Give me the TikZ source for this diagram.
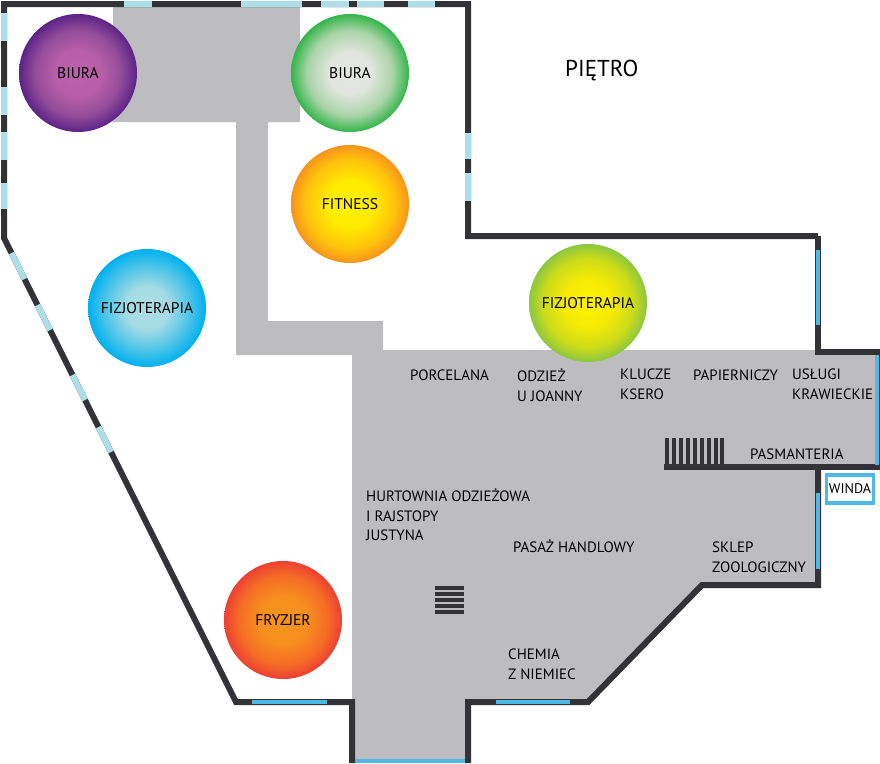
\documentclass[tikz,border=0pt]{standalone}
\usepackage{fontspec}
\setmainfont{PT Sans}
\usetikzlibrary{positioning}
\definecolor{floorgray}{RGB}{189,189,192}
\definecolor{walldark}{RGB}{51,51,55}
\definecolor{glasslight}{RGB}{172,224,232}
\definecolor{glassblue}{RGB}{78,184,230}
\pgfdeclareradialshading{spotpurple}{\pgfpointorigin}{rgb(0bp)=(0.74,0.38,0.67); rgb(10bp)=(0.72,0.37,0.66); rgb(18bp)=(0.58,0.30,0.60); rgb(25bp)=(0.36,0.14,0.53); rgb(50bp)=(0.36,0.14,0.53)}
\pgfdeclareradialshading{spotgreen}{\pgfpointorigin}{rgb(0bp)=(0.90,0.90,0.89); rgb(9bp)=(0.88,0.90,0.87); rgb(18bp)=(0.67,0.83,0.66); rgb(25bp)=(0.20,0.71,0.29); rgb(50bp)=(0.20,0.71,0.29)}
\pgfdeclareradialshading{spotorange}{\pgfpointorigin}{rgb(0bp)=(1,0.95,0); rgb(10bp)=(1,0.92,0); rgb(19bp)=(1,0.76,0.05); rgb(25bp)=(0.97,0.58,0.11); rgb(50bp)=(0.97,0.58,0.11)}
\pgfdeclareradialshading{spotblue}{\pgfpointorigin}{rgb(0bp)=(0.67,0.87,0.90); rgb(9bp)=(0.65,0.86,0.90); rgb(18bp)=(0.30,0.77,0.91); rgb(25bp)=(0,0.69,0.94); rgb(50bp)=(0,0.69,0.94)}
\pgfdeclareradialshading{spotlime}{\pgfpointorigin}{rgb(0bp)=(1,0.95,0); rgb(10bp)=(0.97,0.92,0.02); rgb(19bp)=(0.80,0.86,0.10); rgb(25bp)=(0.55,0.78,0.25); rgb(50bp)=(0.55,0.78,0.25)}
\pgfdeclareradialshading{spotred}{\pgfpointorigin}{rgb(0bp)=(0.97,0.58,0.11); rgb(10bp)=(0.97,0.56,0.12); rgb(19bp)=(0.96,0.42,0.15); rgb(25bp)=(0.93,0.25,0.20); rgb(50bp)=(0.93,0.25,0.20)}
\tikzset{
	wall/.style = {draw = walldark, line width = 6pt, miter limit = 10},
	glass/.style = {draw = glasslight, line width = 6pt},
	pane/.style = {draw = glassblue, line width = 4pt},
	spot/.style = {circle, shade, minimum size = 118pt, inner sep = 0pt, font = \fontsize{15.5}{20}\selectfont},
	lbl/.style = {anchor = west, inner sep = 0pt, align = left, font = \fontsize{15}{19.6}\selectfont}
}
\begin{document}
\begin{tikzpicture}[x=1pt, y=-1pt]
		\useasboundingbox (0, 0) rectangle (880, 763);

		\fill [floorgray] (113, 4) -- (300, 4) -- (300, 122) -- (268, 122) -- (268, 321) -- (383, 321) -- (383, 350) -- (878, 350) -- (878, 467) -- (818, 467) -- (818, 585) -- (702, 585) -- (588, 702) -- (468, 702) -- (468, 763) -- (352, 763) -- (352, 355) -- (236, 355) -- (236, 122) -- (113, 122) -- cycle;

		\foreach \x in {667, 674, 681, 688, 695, 702, 709, 716, 722}
			\draw [walldark, line width = 3.5pt] (\x, 438) -- (\x, 467);
		\foreach \y in {588, 594, 600, 606, 612}
			\draw [walldark, line width = 3.5pt] (435, \y) -- (464, \y);

		\draw [wall] (818, 236) -- (818, 352) -- (878, 352) -- (878, 467) -- (664, 467);
		\draw [wall] (818, 467) -- (818, 585) -- (702, 585) -- (588, 702) -- (468, 702) -- (468, 763);
		\draw [wall] (352, 763) -- (352, 702) -- (236, 702) -- (4, 238) -- (4, 4) -- (468, 4) -- (468, 236) -- (818, 236);

		\foreach \a/\b in {124/152, 241/302, 321/349, 357/384, 408/435}
			\draw [glass] (\a, 4) -- (\b, 4);
		\foreach \a/\b in {13/41, 87/115, 132/160, 183/209}
			\draw [glass] (4, \a) -- (4, \b);
		\foreach \a/\b in {133/159, 173/201}
			\draw [glass] (468, \a) -- (468, \b);
		\draw [glass] (11.5, 253) -- (24.5, 279);
		\draw [glass] (37.5, 305) -- (50, 330);
		\draw [glass] (72.5, 375) -- (85, 400);
		\draw [glass] (98.5, 427) -- (111, 452);

		\draw [pane] (252, 702) -- (327, 702);
		\draw [pane] (496, 702) -- (570, 702);
		\draw [pane] (355, 761) -- (465, 761);
		\draw [pane] (818, 493) -- (818, 569);
		\draw [pane] (818, 250) -- (818, 325);
		\draw [pane] (877, 355) -- (877, 465);

		\node (winda) [draw = glassblue, line width = 3.5pt, fill = white, minimum width = 47pt, minimum height = 28pt, inner sep = 0pt, font = \fontsize{14}{14}\selectfont] at (850, 489) {WINDA};

		\node (biura1) [spot, shading = spotpurple] at (78, 73) {BIURA};
		\node (biura2) [spot, shading = spotgreen] at (350, 73) {BIURA};
		\node (fitness) [spot, shading = spotorange] at (350, 204) {FITNESS};
		\node (fizjo1) [spot, shading = spotblue] at (147, 308) {FIZJOTERAPIA};
		\node (fizjo2) [spot, shading = spotlime] at (588, 303) {FIZJOTERAPIA};
		\node (fryzjer) [spot, shading = spotred] at (283, 620) {FRYZJER};

		\node (pietro) [lbl, font = \fontsize{23}{24}\selectfont] at (565, 71) {PIĘTRO};
		\node (porcelana) [lbl] at (410, 375) {PORCELANA};
		\node (odziez) [lbl] at (517, 385) {ODZIEŻ\\U JOANNY};
		\node (klucze) [lbl] at (620, 384) {KLUCZE\\KSERO};
		\node (papier) [lbl] at (693, 375) {PAPIERNICZY};
		\node (uslugi) [lbl] at (792, 384) {USŁUGI\\KRAWIECKIE};
		\node (pasmant) [lbl] at (750, 454) {PASMANTERIA};
		\node (hurtownia) [lbl] at (366, 515) {HURTOWNIA ODZIEŻOWA\\I RAJSTOPY\\JUSTYNA};
		\node (pasaz) [lbl] at (513, 546) {PASAŻ HANDLOWY};
		\node (sklep) [lbl] at (712, 557) {SKLEP\\ZOOLOGICZNY};
		\node (chemia) [lbl] at (508, 664) {CHEMIA\\Z NIEMIEC};
	\end{tikzpicture}
\end{document}
